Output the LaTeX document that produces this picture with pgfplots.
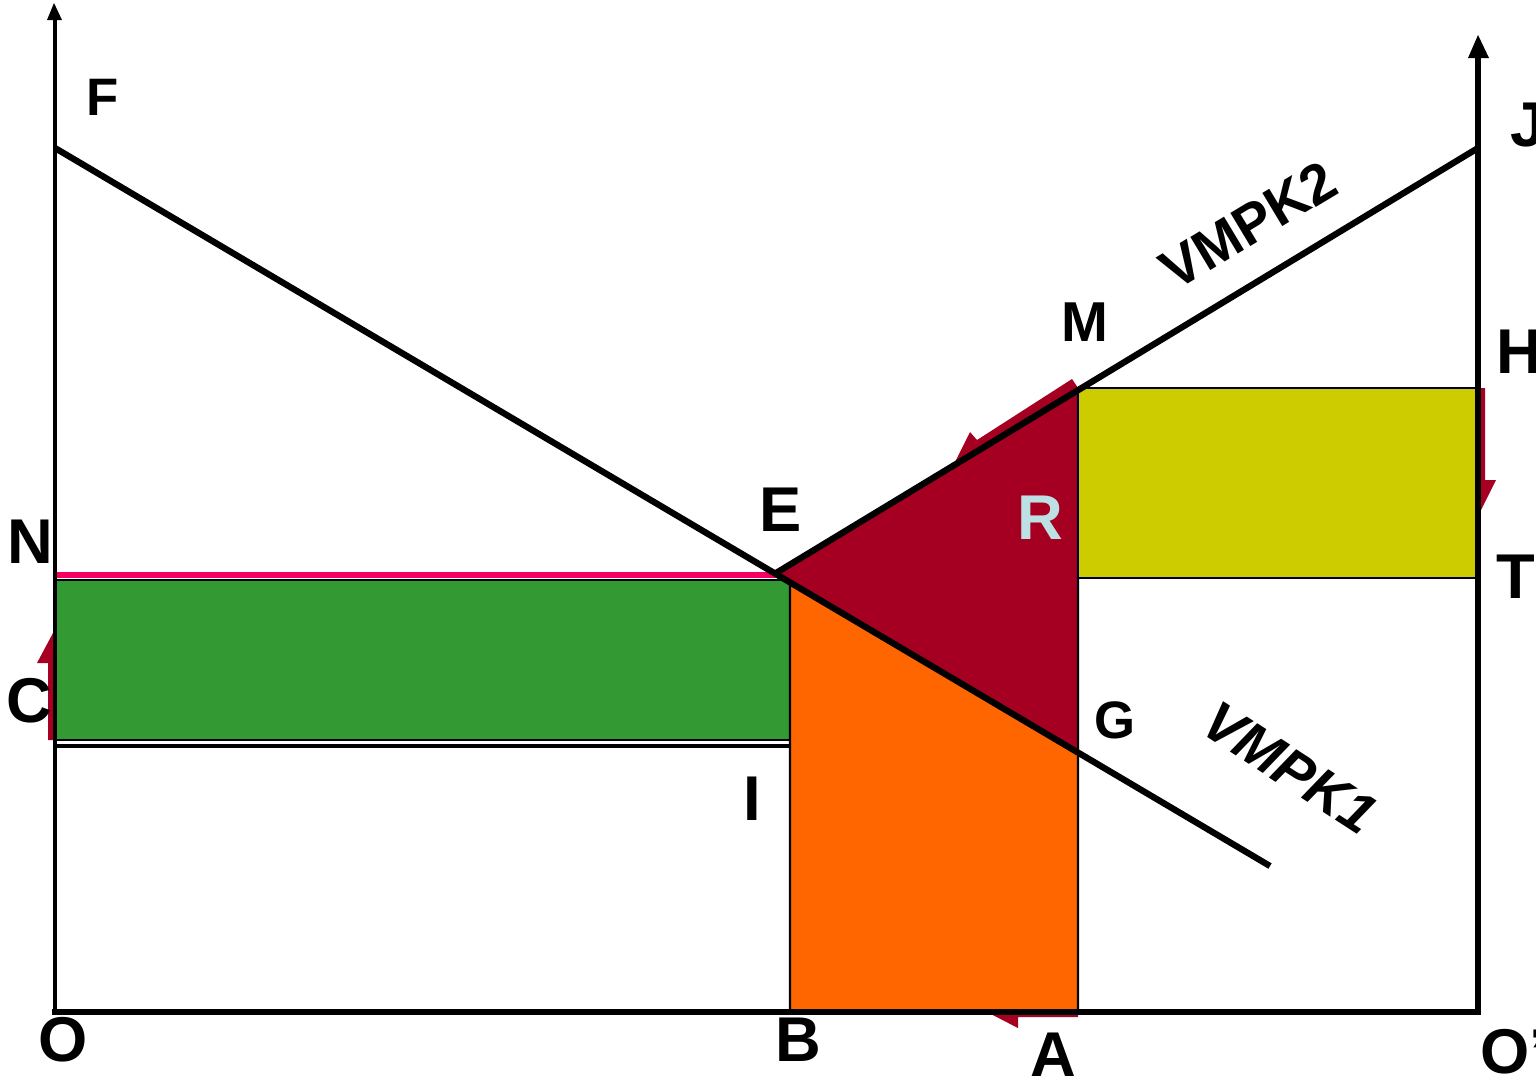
\documentclass[border=0pt]{standalone}
\usepackage{pgfplots}
\pgfplotsset{compat=1.18}
\usepackage{fontspec}
\setmainfont{Liberation Sans}
\definecolor{dred}{HTML}{A50021}
\definecolor{ggreen}{HTML}{339933}
\definecolor{oorange}{HTML}{FF6600}
\definecolor{yyellow}{HTML}{CCCC00}
\definecolor{ppink}{HTML}{F5005F}
\definecolor{lblue}{HTML}{BDE0E5}
\tikzset{
  lab/.style={font=\fontsize{18}{18}\selectfont\bfseries, inner sep=0pt, anchor=center},
  slab/.style={font=\fontsize{15}{15}\selectfont\bfseries, inner sep=0pt, anchor=center}}
\begin{document}
\begin{tikzpicture}
\begin{axis}[scale only axis, width=15.36cm, height=10.81cm,
  xmin=0, xmax=1536, ymin=0, ymax=1081, y dir=reverse,
  hide axis, clip=false]
% red arrow left (C)
\addplot[fill=dred, draw=none] coordinates {(55,740) (48,740) (48,663) (37,663) (53,633) (55,633)} -- cycle;
% green rectangle
\addplot[fill=ggreen, draw=black, line width=0.6pt] coordinates {(55,580) (790,580) (790,740) (55,740)} -- cycle;
% pink line
\addplot[draw=ppink, line width=1.8pt] coordinates {(55,575) (776,575)};
% black line under green
\addplot[draw=black, line width=1.4pt] coordinates {(55,746) (790,746)};
% orange polygon
\addplot[fill=oorange, draw=black, line width=0.6pt] coordinates {(790,1012) (790,582) (1078,753) (1078,1012)} -- cycle;
% bottom red arrow
\addplot[fill=dred, draw=none] coordinates {(1078,1012) (1078,1017) (1018,1017) (1018,1028) (987,1012)} -- cycle;
% red arrow along EM
\addplot[fill=dred, draw=none] coordinates {(1078,388) (1072,379) (977,440) (970,432) (955,462) (1000,435)} -- cycle;
% dark red triangle
\addplot[fill=dred, draw=black, line width=0.6pt] coordinates {(776,573) (1078,388) (1078,754)} -- cycle;
% yellow rectangle
\addplot[fill=yyellow, draw=black!80!blue, line width=0.6pt] coordinates {(1078,388) (1478,388) (1478,578) (1078,578)} -- cycle;
% red arrow right
\addplot[fill=dred, draw=none] coordinates {(1478,388) (1485,388) (1485,480) (1496,480) (1480,512) (1478,512)} -- cycle;
% VMPK lines
\addplot[draw=black, line width=1.8pt] coordinates {(55,148) (1270,866)};
\addplot[draw=black, line width=1.8pt] coordinates {(776,573) (1478,148)};
% axes
\addplot[draw=black, line width=1.2pt] coordinates {(55,1012) (55,18)};
\addplot[fill=black, draw=none] coordinates {(47,20) (54,3) (62,20)} -- cycle;
\addplot[draw=black, line width=1.8pt] coordinates {(1478,1012) (1478,52)};
\addplot[fill=black, draw=none] coordinates {(1468,58) (1478,35) (1489,58)} -- cycle;
\addplot[draw=black, line width=1.8pt] coordinates {(52,1012) (1481,1012)};
% labels
\node[slab] at (axis cs:103,97) {F};
\node[lab] at (axis cs:781,510) {E};
\node[lab] at (axis cs:30,542) {N};
\node[lab] at (axis cs:29,701) {C};
\node[lab] at (axis cs:752,799) {I};
\node[lab] at (axis cs:798,1040) {B};
\node[lab] at (axis cs:1053,1055) {A};
\node[lab] at (axis cs:63,1040) {O};
\node[lab, anchor=west] at (axis cs:1480,1052) {O'};
\node[lab, anchor=west] at (axis cs:1510,125) {J};
\node[lab, anchor=west] at (axis cs:1496,352) {H};
\node[lab, anchor=west] at (axis cs:1496,577) {T};
\node[lab, font=\fontsize{16}{16}\selectfont\bfseries] at (axis cs:1085,322) {M};
\node[slab] at (axis cs:1115,720) {G};
\node[lab, text=lblue] at (axis cs:1040,518) {R};
\node[lab, rotate=31, font=\fontsize{16}{16}\selectfont\bfseries] at (axis cs:1248,225) {VMPK2};
\node[lab, rotate=-33, font=\fontsize{16}{16}\selectfont\bfseries\itshape] at (axis cs:1290,768) {VMPK1};
\coordinate (bl) at (axis cs:0,1081);
\coordinate (tr) at (axis cs:1536,0);
\end{axis}
\pgfresetboundingbox
\path[use as bounding box] (bl) rectangle (tr);
\end{tikzpicture}
\end{document}
